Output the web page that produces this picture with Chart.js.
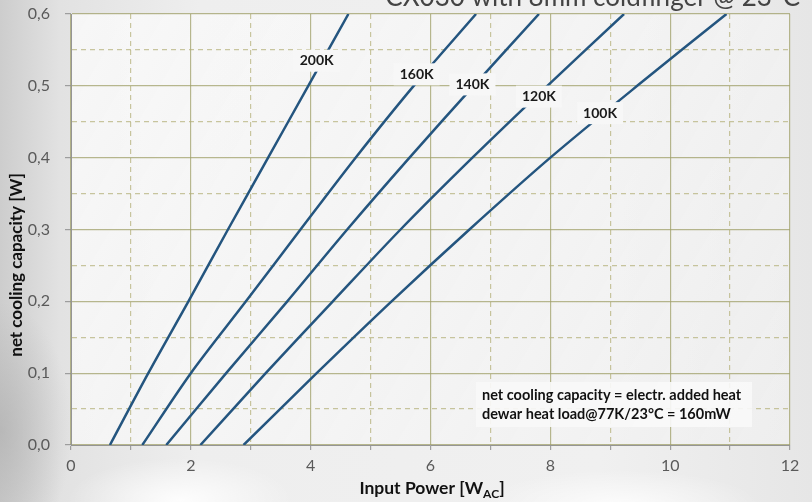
<!DOCTYPE html>
<html>
<head>
<meta charset="utf-8">
<script src="https://cdn.jsdelivr.net/npm/chart.js@4.4.1/dist/chart.umd.min.js"></script>
<style>
  html, body { margin: 0; padding: 0; }
  body {
    width: 812px; height: 502px; overflow: hidden;
    background:
      radial-gradient(ellipse 160px 60px at 180px 500px, rgba(255,255,255,0.9), rgba(255,255,255,0) 70%),
      radial-gradient(ellipse 200px 50px at 620px 505px, rgba(255,255,255,0.8), rgba(255,255,255,0) 70%),
      radial-gradient(ellipse 90px 160px at 0px 430px, rgba(170,170,170,0.6), rgba(170,170,170,0) 80%),
      linear-gradient(to right, #cdcdcd 0px, #e2e2e2 60px, #eeeeee 200px, #f0f0f0 600px, #e6e6e6 812px);
  }
  #wrap { position: relative; width: 812px; height: 502px; }
</style>
</head>
<body>
<div id="wrap"><canvas id="myChart" width="812" height="502"></canvas></div>
<script>
// net cooling capacity [W] (y) and the input power [W_AC] each curve needs (x)
const capacity = [0, 0.1, 0.2, 0.3, 0.4, 0.5, 0.6];
const power200K = [0.65, 1.29, 1.96, 2.62, 3.29, 3.96, 4.63];
const power160K = [1.19, 2.00, 2.92, 3.83, 4.75, 5.72, 6.76];
const power140K = [1.59, 2.59, 3.61, 4.61, 5.65, 6.72, 7.81];
const power120K = [2.16, 3.25, 4.37, 5.50, 6.70, 7.95, 9.23];
const power100K = [2.88, 4.10, 5.35, 6.65, 8.00, 9.45, 10.94];
const curveNames = ['200K', '160K', '140K', '120K', '100K'];
const curvePowers = [power200K, power160K, power140K, power120K, power100K];

const titleText = 'CX030 with 8mm coldfinger @ 23°C';
const noteLines = ['net cooling capacity = electr. added heat', 'dewar heat load@77K/23°C = 160mW'];

// where the curve labels sit, in data units
const labelSpots = [[4.10, 0.535], [5.77, 0.516], [6.70, 0.502], [7.81, 0.485], [8.83, 0.462]];

const FONT = 'Lato, "Open Sans", sans-serif';
const lineBlue = '#24557f';
const gridSolid = 'rgba(160,160,105,0.75)';
const gridDash = 'rgba(180,175,120,0.7)';

function isMajorY(v) { return Math.round(v * 100) % 10 === 0; }
function isMajorX(v) { return Math.round(v) % 2 === 0; }

const decor = {
  id: 'decor',
  beforeDraw(chart) {
    const {ctx, chartArea: a} = chart;
    ctx.save();
    const g = ctx.createLinearGradient(a.left, a.top, a.right, a.bottom);
    g.addColorStop(0, 'rgba(250,250,250,0.85)');
    g.addColorStop(1, 'rgba(240,240,240,0.75)');
    ctx.fillStyle = g;
    ctx.fillRect(a.left, a.top, a.right - a.left, a.bottom - a.top);
    ctx.restore();
  },
  afterDatasetsDraw(chart) {
    const {ctx} = chart;
    const xs = chart.scales.x, ys = chart.scales.y;
    ctx.save();
    // curve labels
    ctx.font = 'bold 14px ' + FONT;
    ctx.textAlign = 'center';
    ctx.textBaseline = 'middle';
    curveNames.forEach((name, i) => {
      const px = xs.getPixelForValue(labelSpots[i][0]);
      const py = ys.getPixelForValue(labelSpots[i][1]);
      const w = ctx.measureText(name).width + 12;
      ctx.fillStyle = 'rgba(247,247,247,1)';
      ctx.fillRect(px - w / 2, py - 11, w, 22);
      ctx.fillStyle = '#1a1a1a';
      ctx.fillText(name, px, py);
    });
    // note box
    ctx.font = 'bold 14.5px ' + FONT;
    ctx.textAlign = 'left';
    const nx = 482, ny = 395;
    ctx.fillStyle = 'rgba(248,248,248,0.92)';
    ctx.fillRect(nx - 6, ny - 13, 276, 45);
    ctx.fillStyle = '#111';
    ctx.fillText(noteLines[0], nx, ny);
    ctx.fillText(noteLines[1], nx, ny + 19);
    ctx.restore();
  },
  afterDraw(chart) {
    const {ctx} = chart;
    ctx.save();
    // title, cut by the top edge like in the picture
    ctx.font = '26px ' + FONT;
    ctx.fillStyle = '#444';
    ctx.textAlign = 'right';
    ctx.textBaseline = 'alphabetic';
    ctx.fillText(titleText, 800, 6);
    // y title
    ctx.font = 'bold 17px ' + FONT;
    ctx.fillStyle = '#111';
    ctx.textAlign = 'center';
    ctx.textBaseline = 'middle';
    ctx.translate(17, 265);
    ctx.rotate(-Math.PI / 2);
    ctx.fillText('net cooling capacity [W]', 0, 0);
    ctx.restore();
    // x title with subscript
    ctx.save();
    ctx.fillStyle = '#111';
    ctx.textBaseline = 'alphabetic';
    const main = 'Input Power [W', sub = 'AC', end = ']';
    ctx.font = 'bold 17.5px ' + FONT;
    const w1 = ctx.measureText(main).width, w3 = ctx.measureText(end).width;
    ctx.font = 'bold 12px ' + FONT;
    const w2 = ctx.measureText(sub).width;
    const x0 = 432 - (w1 + w2 + w3) / 2;
    const by = 494;
    ctx.font = 'bold 17.5px ' + FONT;
    ctx.fillText(main, x0, by);
    ctx.font = 'bold 12px ' + FONT;
    ctx.fillText(sub, x0 + w1, by + 4);
    ctx.font = 'bold 17.5px ' + FONT;
    ctx.fillText(end, x0 + w1 + w2, by);
    ctx.restore();
  }
};

const datasets = curveNames.map((name, i) => ({
  label: name,
  data: curvePowers[i].map((p, k) => ({x: p, y: capacity[k]})),
  showLine: true,
  borderColor: lineBlue,
  borderWidth: 2.5,
  pointRadius: 0,
  tension: 0.3,
  fill: false
}));

const options = {
  type: 'scatter',
  data: { datasets: datasets },
  options: {
    responsive: false,
    animation: false,
    layout: { padding: { top: 14, right: 22, left: 0, bottom: 0 } },
    plugins: {
      legend: { display: false },
      tooltip: { enabled: false }
    },
    scales: {
      x: {
        type: 'linear',
        min: 0,
        max: 12,
        afterFit: (scale) => { scale.height = 57; scale.paddingLeft = 0; scale.paddingRight = 0; },
        ticks: {
          stepSize: 1,
          padding: 6,
          color: '#5a5a5a',
          font: { family: FONT, size: 16 },
          callback: (v) => isMajorX(v) ? String(v) : ''
        },
        grid: {
          color: (c) => c.tick && isMajorX(c.tick.value) ? gridSolid : gridDash,
          lineWidth: 1.2,
          tickLength: 5,
          tickColor: 'rgba(140,140,140,0.8)'
        },
        border: {
          color: 'rgba(140,140,140,0.9)',
          dash: (c) => c.tick && !isMajorX(c.tick.value) ? [5, 4] : []
        }
      },
      y: {
        type: 'linear',
        min: 0,
        max: 0.6,
        afterFit: (scale) => { scale.width = 71; scale.paddingTop = 0; scale.paddingBottom = 0; },
        ticks: {
          stepSize: 0.05,
          padding: 15,
          color: '#5a5a5a',
          font: { family: FONT, size: 16 },
          callback: (v) => isMajorY(v) ? v.toFixed(1).replace('.', ',') : ''
        },
        grid: {
          color: (c) => c.tick && isMajorY(c.tick.value) ? gridSolid : gridDash,
          lineWidth: 1.2,
          tickLength: 6,
          tickColor: (c) => c.tick && isMajorY(c.tick.value) ? 'rgba(140,140,140,0.8)' : 'rgba(0,0,0,0)'
        },
        border: {
          color: 'rgba(140,140,140,0.9)',
          dash: (c) => c.tick && !isMajorY(c.tick.value) ? [5, 4] : []
        }
      }
    }
  },
  plugins: [decor]
};

const ctx = document.getElementById('myChart').getContext('2d');
new Chart(ctx, options);
</script>
</body>
</html>
